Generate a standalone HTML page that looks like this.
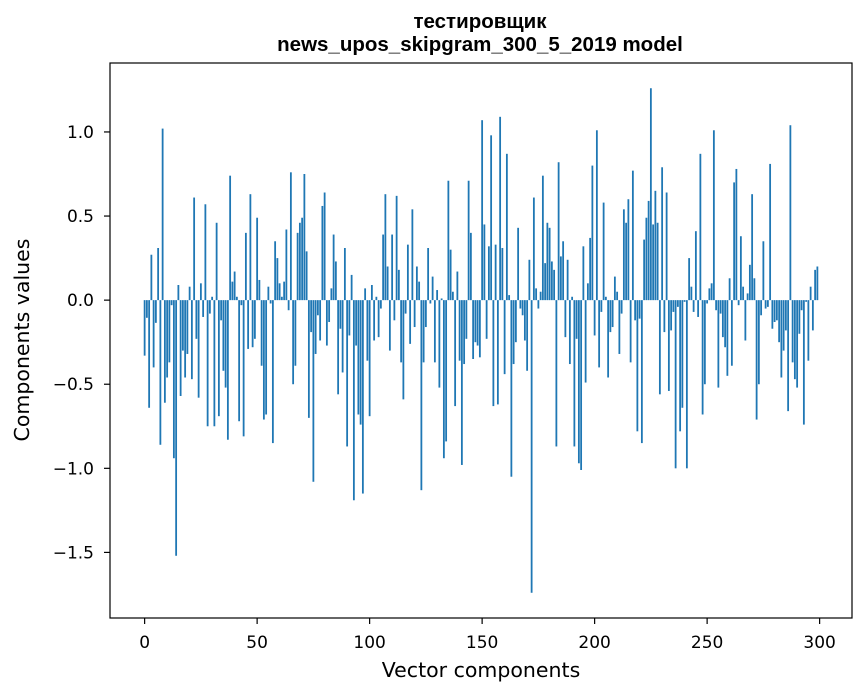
<!DOCTYPE html>
<html><head><meta charset="utf-8">
<style>
body{margin:0;background:#fff;font-family:"DejaVu Sans",sans-serif;}
svg{display:block}
text{font-family:"DejaVu Sans",sans-serif;}
</style></head>
<body>
<svg id="chart" width="867" height="696" viewBox="0 0 867 696" xmlns="http://www.w3.org/2000/svg">
<text x="480" y="28" text-anchor="middle" font-size="20.5" font-weight="bold" style="font-family:'Liberation Sans',Arial,sans-serif">тестировщик</text>
<text x="480" y="51" text-anchor="middle" font-size="20.5" font-weight="bold" style="font-family:'Liberation Sans',Arial,sans-serif">news_upos_skipgram_300_5_2019 model</text>
<g id="bars"></g>
<g id="xticks"></g>
<g id="yticks"></g>
<rect x="110" y="63" width="742" height="555" fill="none" stroke="#000" stroke-width="1.2"/>
<text x="481" y="677" text-anchor="middle" font-size="20.5">Vector components</text>
<text transform="translate(29,340) rotate(-90)" text-anchor="middle" font-size="20.5">Components values</text>
</svg>
<script>
const values = [
-0.33,-0.105,-0.64,0.27,-0.40,-0.135,0.31,-0.86,1.02,-0.61,
-0.46,-0.37,-0.03,-0.94,-1.52,0.09,-0.57,-0.30,-0.46,-0.32,
0.08,-0.47,0.61,-0.23,-0.58,0.10,-0.10,0.57,-0.75,-0.08,
0.02,-0.75,0.46,-0.69,-0.12,-0.42,-0.52,-0.83,0.74,0.11,
0.17,0.02,-0.72,-0.03,-0.81,0.40,-0.29,0.63,-0.28,-0.23,
0.49,0.12,-0.39,-0.71,-0.68,0.08,-0.02,-0.85,0.35,0.25,
0.10,0.02,0.11,0.42,-0.06,0.76,-0.50,-0.39,0.40,0.46,
0.49,0.75,0.29,-0.70,-0.19,-1.08,-0.32,-0.09,-0.24,0.56,
0.64,-0.27,-0.13,0.07,0.39,0.23,-0.56,-0.17,-0.43,0.31,
-0.87,-0.21,0.15,-1.19,-0.27,-0.68,-0.74,-1.15,0.07,-0.36,
-0.69,0.09,-0.24,0.02,-0.22,-0.05,0.39,0.63,0.20,-0.30,
0.39,-0.12,0.62,0.18,-0.37,-0.59,-0.08,0.33,-0.26,0.54,
-0.16,0.20,0.11,-1.13,-0.37,-0.16,0.31,-0.02,0.14,-0.37,
0.06,-0.52,0.01,-0.94,-0.84,0.71,0.30,0.05,-0.63,0.17,
-0.36,-0.98,-0.38,-0.23,0.71,0.40,-0.35,-0.25,-0.27,-0.34,
1.07,0.45,-0.23,0.32,0.98,-0.63,0.33,-0.62,1.09,0.31,
-0.44,0.87,0.03,-1.05,-0.38,-0.25,0.43,-0.05,-0.09,-0.24,
-0.42,0.24,-1.74,0.61,0.07,-0.05,0.05,0.74,0.22,0.46,
0.43,0.23,0.18,-0.87,0.82,0.26,0.35,-0.22,0.24,-0.38,
0.02,-0.87,-0.23,-0.97,-1.01,0.32,-0.49,0.10,0.37,0.80,
-0.21,1.01,-0.40,-0.07,0.58,0.02,-0.46,-0.19,-0.16,0.14,
0.05,-0.32,-0.08,0.54,0.46,0.60,-0.37,0.77,-0.12,-0.78,
-0.11,-0.85,0.36,0.49,0.59,1.26,0.45,0.65,0.46,-0.56,
0.79,-0.19,0.64,-0.54,-0.18,-0.07,-1.00,-0.04,-0.78,-0.64,
-0.01,-1.00,0.25,0.08,-0.07,0.41,-0.10,0.87,-0.68,-0.50,
-0.02,0.07,0.10,1.01,-0.06,-0.52,-0.08,-0.22,-0.28,-0.45,
0.13,-0.39,0.70,0.78,-0.03,0.38,0.08,-0.24,0.04,0.21,
0.63,0.13,-0.71,-0.50,-0.09,0.35,-0.05,-0.04,0.81,-0.17,
-0.13,-0.12,-0.25,-0.46,-0.30,-0.18,-0.66,1.04,-0.37,-0.47,
-0.52,-0.20,-0.06,-0.74,-0.01,-0.36,0.08,-0.18,0.18,0.20
];
const xTickValues = [0,50,100,150,200,250,300];
const yTickValues = [-1.5,-1.0,-0.5,0.0,0.5,1.0];
const yTickLabels = ["\u22121.5","\u22121.0","\u22120.5","0.0","0.5","1.0"];

const NS="http://www.w3.org/2000/svg";
const L=110,R=852,T=63,B=618;
const n=values.length;
const xmin=-0.4-(n-0.2)*0.05, xmax=(n-1)+0.4+(n-0.2)*0.05;
const dmin=Math.min(0,...values), dmax=Math.max(0,...values);
const ymin=dmin-(dmax-dmin)*0.05, ymax=dmax+(dmax-dmin)*0.05;
function xs(v){return L+(v-xmin)/(xmax-xmin)*(R-L);}
function ys(v){return B-(v-ymin)/(ymax-ymin)*(B-T);}
const bars=document.getElementById('bars');
values.forEach((v,i)=>{
  const r=document.createElementNS(NS,'rect');
  const x0=xs(i-0.4), x1=xs(i+0.4);
  const y0=ys(Math.max(v,0)), y1=ys(Math.min(v,0));
  r.setAttribute('x',x0);r.setAttribute('width',x1-x0);
  r.setAttribute('y',y0);r.setAttribute('height',Math.max(y1-y0,0.01));
  r.setAttribute('fill','#1f77b4');
  
  
  bars.appendChild(r);
});
const xg=document.getElementById('xticks');
xTickValues.forEach(v=>{
  const x=xs(v);
  const l=document.createElementNS(NS,'line');
  l.setAttribute('x1',x);l.setAttribute('x2',x);l.setAttribute('y1',B);l.setAttribute('y2',B+6);
  l.setAttribute('stroke','#000');l.setAttribute('stroke-width','1.2');
  
  
  xg.appendChild(l);
  const t=document.createElementNS(NS,'text');
  t.setAttribute('x',x);t.setAttribute('y',B+30);t.setAttribute('text-anchor','middle');
  t.setAttribute('font-size','17');t.textContent=String(v);
  
  
  xg.appendChild(t);
});
const yg=document.getElementById('yticks');
yTickValues.forEach((v,i)=>{
  const y=ys(v);
  const l=document.createElementNS(NS,'line');
  l.setAttribute('x1',L-6);l.setAttribute('x2',L);l.setAttribute('y1',y);l.setAttribute('y2',y);
  l.setAttribute('stroke','#000');l.setAttribute('stroke-width','1.2');
  
  
  yg.appendChild(l);
  const t=document.createElementNS(NS,'text');
  t.setAttribute('x',L-16);t.setAttribute('y',y+6);t.setAttribute('text-anchor','end');
  t.setAttribute('font-size','17');t.textContent=yTickLabels[i];
  
  
  yg.appendChild(t);
});
</script>
</body></html>
